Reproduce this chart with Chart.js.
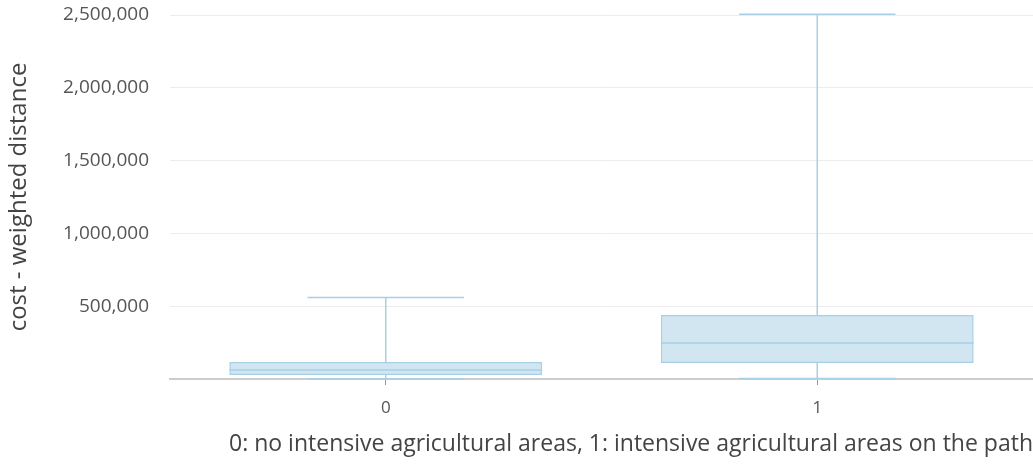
<!DOCTYPE html>
<html>
<head>
<meta charset="utf-8">
<script src="https://cdn.jsdelivr.net/npm/chart.js@4/dist/chart.umd.min.js"></script>
<style>
  html, body { margin: 0; padding: 0; background: #fff; }
  #wrap { width: 1033px; height: 464px; }
</style>
</head>
<body>
<div id="wrap"><canvas id="myChart"></canvas></div>
<script>
// box plot data
var categories = ['0', '1'];
var mins = [0, 3000];
var q1s = [27000, 110000];
var medians = [62000, 247000];
var q3s = [117000, 440000];
var maxes = [560000, 2505000];
var yTicks = [0, 500000, 1000000, 1500000, 2000000, 2500000];

var boxLine = '#a6d0e6';

// median, whiskers and caps drawn on top of the floating bars
var whiskers = {
    id: 'whiskers',
    afterDatasetsDraw: function(chart) {
        var ctx = chart.ctx;
        var x = chart.scales.x, y = chart.scales.y;
        var meta = chart.getDatasetMeta(0);
        ctx.save();
        ctx.strokeStyle = boxLine;
        ctx.lineWidth = 1.5;
        for (var i = 0; i < categories.length; i++) {
            var bar = meta.data[i];
            var cx = x.getPixelForValue(i);
            var half = bar.width / 2;
            var cap = half / 2;
            var yMed = y.getPixelForValue(medians[i]);
            var yQ1 = y.getPixelForValue(q1s[i]);
            var yQ3 = y.getPixelForValue(q3s[i]);
            var yMin = y.getPixelForValue(mins[i]);
            var yMax = y.getPixelForValue(maxes[i]);
            ctx.beginPath();
            // median
            ctx.moveTo(cx - half, yMed); ctx.lineTo(cx + half, yMed);
            // whiskers
            ctx.moveTo(cx, yQ3); ctx.lineTo(cx, yMax);
            ctx.moveTo(cx, yQ1); ctx.lineTo(cx, yMin);
            // caps
            ctx.moveTo(cx - cap, yMax); ctx.lineTo(cx + cap, yMax);
            ctx.moveTo(cx - cap, yMin); ctx.lineTo(cx + cap, yMin);
            ctx.stroke();
        }
        ctx.restore();
    }
};

var ctx = document.getElementById('myChart');
var chart = new Chart(ctx, {
    type: 'bar',
    data: {
        labels: categories,
        datasets: [{
            data: categories.map(function(c, i) { return [q1s[i], q3s[i]]; }),
            backgroundColor: 'rgba(166, 206, 227, 0.5)',
            borderColor: boxLine,
            borderWidth: 1.5,
            borderSkipped: false,
            barPercentage: 0.725,
            categoryPercentage: 1
        }]
    },
    options: {
        responsive: true,
        maintainAspectRatio: false,
        animation: false,
        layout: { padding: { top: 15, right: 0, left: 0, bottom: 0 } },
        plugins: {
            legend: { display: false },
            tooltip: { enabled: false }
        },
        scales: {
            x: {
                afterFit: function(scale) { scale.height = 85; },
                grid: { offset: false, drawOnChartArea: false, drawTicks: true, tickLength: 6, color: '#999' },
                border: { display: true, color: '#cccccc', width: 2 },
                ticks: { color: '#555', font: { family: 'Open Sans', size: 17 }, padding: 13 },
                title: {
                    display: true,
                    align: 'end',
                    text: '0: no intensive agricultural areas, 1: intensive agricultural areas on the path',
                    color: '#444',
                    font: { family: 'Open Sans', size: 23 },
                    padding: { top: 4, bottom: 6 }
                }
            },
            y: {
                min: 0,
                max: 2500000,
                afterFit: function(scale) { scale.width = 170; },
                afterBuildTicks: function(scale) {
                    scale.ticks = yTicks.map(function(v) { return { value: v }; });
                },
                grid: { color: '#ececec', drawTicks: true, tickLength: 21, tickColor: 'rgba(0,0,0,0)' },
                border: { display: false },
                ticks: {
                    color: '#555',
                    font: { family: 'Open Sans', size: 19 },
                    padding: 0,
                    callback: function(v) { return v === 0 ? '' : v.toLocaleString('en-US'); }
                },
                title: {
                    display: true,
                    text: 'cost - weighted distance',
                    color: '#444',
                    font: { family: 'Open Sans', size: 24 },
                    padding: { top: 5, bottom: 0 }
                }
            }
        }
    },
    plugins: [whiskers]
});
</script>
</body>
</html>
